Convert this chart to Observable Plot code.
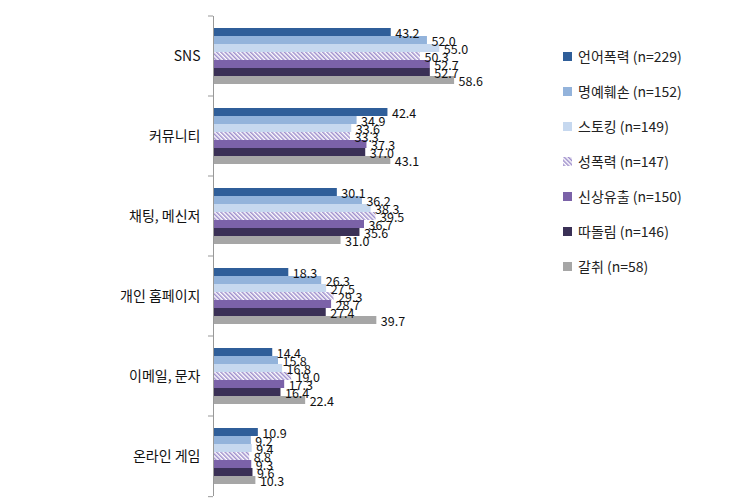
<!DOCTYPE html>
<html><head><meta charset="utf-8">
<script src="https://cdn.jsdelivr.net/npm/d3@7"></script>
<script src="https://cdn.jsdelivr.net/npm/@observablehq/plot@0.6"></script>
<style>
body{margin:0;background:#fff;font-family:"Noto Sans CJK KR","Noto Sans",sans-serif;}
#wrap{position:relative;width:735px;height:499px;}
#legend{position:absolute;left:563px;top:46px;font-size:14px;color:#222;}
#legend .row{height:35px;display:flex;align-items:flex-start;line-height:21px;}
#legend .sw{width:9px;height:9px;margin-right:6px;margin-top:6px;flex:none;}
</style></head>
<body><div id="wrap"><div id="legend"></div></div>
<script>
const categories = ["SNS", "커뮤니티", "채팅, 메신저", "개인 홈페이지", "이메일, 문자", "온라인 게임"];
const series = ["언어폭력 (n=229)", "명예훼손 (n=152)", "스토킹 (n=149)", "성폭력 (n=147)", "신상유출 (n=150)", "따돌림 (n=146)", "갈취 (n=58)"];
const colors = ["#2f5e99", "#93b3db", "#c6d8ef", "url(#hatch)", "#7b62a8", "#3a3056", "#a6a6a6"];
const v_verbal  = [43.2, 42.4, 30.1, 18.3, 14.4, 10.9];
const v_defame  = [52.0, 34.9, 36.2, 26.3, 15.8, 9.2];
const v_stalk   = [55.0, 33.6, 38.3, 27.5, 16.8, 9.4];
const v_sexual  = [50.3, 33.3, 39.5, 29.3, 19.0, 8.8];
const v_leak    = [52.7, 37.3, 36.7, 28.7, 17.3, 9.3];
const v_bully   = [52.7, 37.0, 35.6, 27.4, 16.4, 9.6];
const v_extort  = [58.6, 43.1, 31.0, 39.7, 22.4, 10.3];
const valueSets = [v_verbal, v_defame, v_stalk, v_sexual, v_leak, v_bully, v_extort];

const data = [];
series.forEach((s, si) => categories.forEach((c, ci) => data.push({category: c, series: s, value: valueSets[si][ci]})));

const chart = Plot.plot({
  width: 735, height: 499,
  marginTop: 14, marginBottom: 1, marginLeft: 213, marginRight: 234,
  style: {fontFamily: '"Noto Sans CJK KR", sans-serif', background: "transparent"},
  x: {domain: [0, 70], axis: null},
  y: {domain: series, axis: null, paddingInner: 0, paddingOuter: 1.05},
  fy: {domain: categories, padding: 0, axis: null},
  color: {domain: series, range: colors},
  marks: [
    Plot.axisFy({anchor: "left", tickSize: 0, tickPadding: 13, label: null, fontSize: 14, fill: "#111"}),
    Plot.barX(data, {fy: "category", y: "series", x: "value", fill: "series"}),
    Plot.text(data, {fy: "category", y: "series", x: "value", text: d => d.value.toFixed(1), textAnchor: "start", dx: 4, dy: 1.5, fontSize: 12.5, fill: "#111"}),
    Plot.ruleX([0], {stroke: "#999", strokeWidth: 1})
  ]
});

const svg = d3.select(chart);
const defs = svg.insert("defs", ":first-child");
const pat = defs.append("pattern").attr("id", "hatch").attr("patternUnits", "userSpaceOnUse")
  .attr("width", 3).attr("height", 3).attr("patternTransform", "rotate(-45)");
pat.append("rect").attr("width", 3).attr("height", 3).attr("fill", "#ffffff");
pat.append("rect").attr("width", 1.5).attr("height", 3).attr("fill", "#9d8dcb");

// boundary ticks on the category axis
const fy = chart.scale("fy");
const bw = (fy.range[1] - fy.range[0]) / categories.length;
const x0 = chart.scale("x").apply(0);
const bounds = categories.map(c => fy.apply(c)).concat([fy.apply(categories[categories.length - 1]) + bw]);
svg.append("g").selectAll("line").data(bounds).join("line")
  .attr("x1", x0 - 5).attr("x2", x0).attr("y1", d => d).attr("y2", d => d)
  .attr("stroke", "#999");

document.getElementById("wrap").prepend(chart);

const legend = d3.select("#legend");
series.forEach((s, i) => {
  const row = legend.append("div").attr("class", "row");
  const sw = row.append("svg").attr("class", "sw").attr("width", 9).attr("height", 9);
  sw.append("rect").attr("width", 9).attr("height", 9).attr("fill", colors[i]);
  row.append("span").text(s);
});
</script></body></html>
